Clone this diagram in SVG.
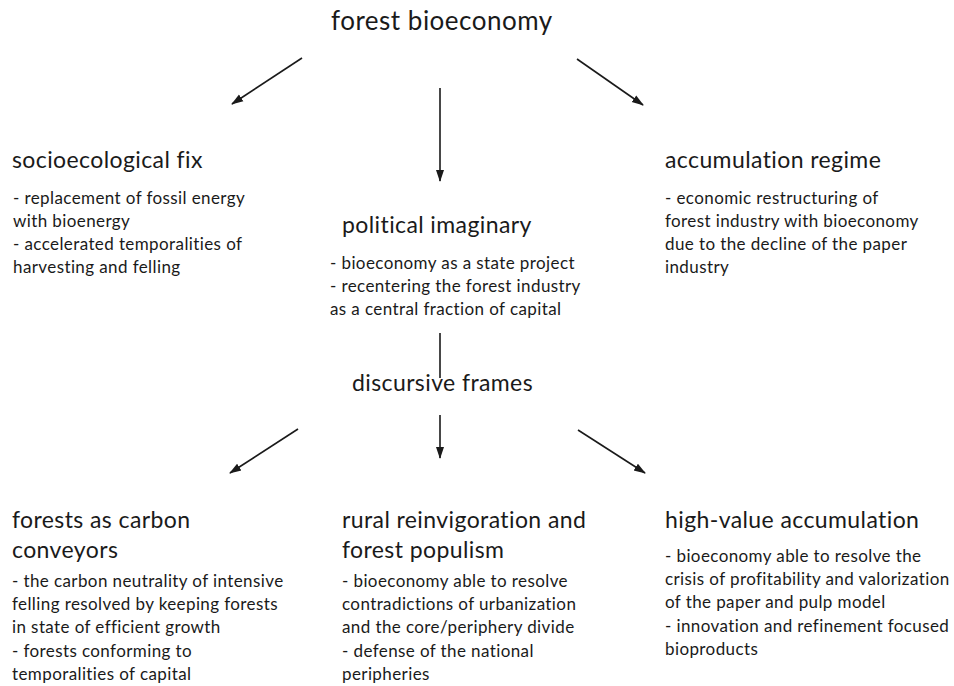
<svg xmlns="http://www.w3.org/2000/svg" width="954" height="686" viewBox="0 0 954 686">
<style>
text{font-family:Lato,"Open Sans","DejaVu Sans",sans-serif;fill:#1a1a1a}
.t{font-size:26px;letter-spacing:0.5px}
.h{font-size:23px;letter-spacing:0.4px}
.b{font-size:17px;letter-spacing:0.4px}
.c line{stroke:#1a1a1a;stroke-width:1.6;fill:none}
.c .a{marker-end:url(#ah)}
</style>
<defs>
<marker id="ah" viewBox="0 0 12 10" refX="11" refY="5" markerWidth="12" markerHeight="10" markerUnits="userSpaceOnUse" orient="auto">
<path d="M0,1 L12,5 L0,9 Z" fill="#1a1a1a"/>
</marker>
</defs>
<rect width="954" height="686" fill="#fff"/>
<g class="c" id="connectors">
<line class="a" x1="302" y1="58" x2="232" y2="104"/>
<line class="a" x1="577" y1="59" x2="643" y2="105"/>
<line class="a" x1="440" y1="88" x2="440" y2="181"/>
<line x1="440" y1="333" x2="440" y2="378"/>
<line class="a" x1="298" y1="429" x2="230" y2="473"/>
<line class="a" x1="440" y1="415" x2="440" y2="458"/>
<line class="a" x1="578" y1="430" x2="645" y2="473"/>
</g>
<g id="forest-bioeconomy"><text class="t" x="331" y="30">forest bioeconomy</text></g>
<g id="socioecological-fix">
<text class="h" x="12" y="168">socioecological fix</text>
<text class="b" x="13" y="204">- replacement of fossil energy</text>
<text class="b" x="13" y="227">with bioenergy</text>
<text class="b" x="13" y="250">- accelerated temporalities of</text>
<text class="b" x="13" y="273">harvesting and felling</text>
</g>
<g id="political-imaginary">
<text class="h" x="342" y="233">political imaginary</text>
<text class="b" x="330" y="269">- bioeconomy as a state project</text>
<text class="b" x="330" y="292">- recentering the forest industry</text>
<text class="b" x="330" y="315">as a central fraction of capital</text>
</g>
<g id="accumulation-regime">
<text class="h" x="665" y="168">accumulation regime</text>
<text class="b" x="665" y="204">- economic restructuring of</text>
<text class="b" x="665" y="227">forest industry with bioeconomy</text>
<text class="b" x="665" y="250">due to the decline of the paper</text>
<text class="b" x="665" y="273">industry</text>
</g>
<g id="discursive-frames"><text class="h" x="352" y="391">discursive frames</text></g>
<g id="forests-carbon">
<text class="h" x="12" y="528">forests as carbon</text>
<text class="h" x="12" y="558">conveyors</text>
<text class="b" x="12" y="587">- the carbon neutrality of intensive</text>
<text class="b" x="12" y="610">felling resolved by keeping forests</text>
<text class="b" x="12" y="633">in state of efficient growth</text>
<text class="b" x="12" y="657">- forests conforming to</text>
<text class="b" x="12" y="680">temporalities of capital</text>
</g>
<g id="rural-reinvigoration">
<text class="h" x="342" y="528">rural reinvigoration and</text>
<text class="h" x="342" y="558">forest populism</text>
<text class="b" x="342" y="587">- bioeconomy able to resolve</text>
<text class="b" x="342" y="610">contradictions of urbanization</text>
<text class="b" x="342" y="633">and the core/periphery divide</text>
<text class="b" x="342" y="657">- defense of the national</text>
<text class="b" x="342" y="680">peripheries</text>
</g>
<g id="high-value">
<text class="h" x="665" y="528">high-value accumulation</text>
<text class="b" x="665" y="562">- bioeconomy able to resolve the</text>
<text class="b" x="665" y="585">crisis of profitability and valorization</text>
<text class="b" x="665" y="608">of the paper and pulp model</text>
<text class="b" x="665" y="632">- innovation and refinement focused</text>
<text class="b" x="665" y="655">bioproducts</text>
</g>
</svg>
